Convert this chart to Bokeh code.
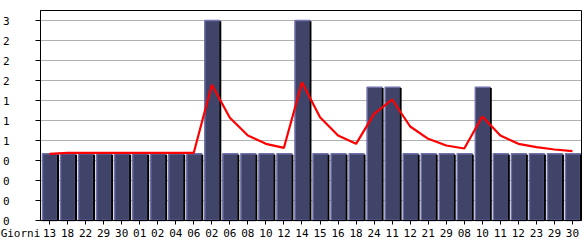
from bokeh.plotting import figure
from bokeh.models import FixedTicker, Range1d
from bokeh.embed import file_html
from bokeh.resources import INLINE

days = ["13", "18", "22", "29", "30", "01", "02", "04", "06", "02",
        "06", "08", "10", "12", "14", "15", "16", "18", "24", "11",
        "12", "21", "29", "08", "10", "11", "12", "23", "29", "30"]
visits = [1, 1, 1, 1, 1, 1, 1, 1, 1, 3,
          1, 1, 1, 1, 3, 1, 1, 1, 2, 2,
          1, 1, 1, 1, 2, 1, 1, 1, 1, 1]
average = [1.0, 1.015, 1.015, 1.015, 1.015, 1.015, 1.015, 1.015, 1.015, 2.035,
           1.54, 1.275, 1.15, 1.09, 2.075, 1.55, 1.275, 1.15, 1.6, 1.815,
           1.41, 1.225, 1.125, 1.08, 1.56, 1.275, 1.15, 1.1, 1.065, 1.04]
y_ticks = [0, 0.3, 0.6, 0.9, 1.2, 1.5, 1.8, 2.1, 2.4, 2.7, 3.0]
y_tick_labels = ["0", "0", "0", "0", "1", "1", "1", "2", "2", "2", "3"]
y_top = 3.15
x_title = "Giorni"

FONT = "DejaVu Sans Mono"
n = len(visits)
px_per_x = 541 / n          # category width in pixels
px_per_y = 210 / y_top      # pixels per unit of value
x_title_pos = -0.5 - 20 / px_per_x

p = figure(width=585, height=240, output_backend="svg", toolbar_location=None,
           x_range=Range1d(-0.5 - 40 / px_per_x, n - 0.5 + 2 / px_per_x),
           y_range=Range1d(-20 / px_per_y, y_top + 2 / px_per_y),
           min_border_left=0, min_border_right=2, min_border_top=8, min_border_bottom=0)
p.background_fill_color = "white"
p.border_fill_color = "white"
p.outline_line_color = None
p.xgrid.visible = False
p.ygrid.visible = False

xs = list(range(n))
body_x = [i + 0.027 for i in xs]
shadow_x = [i + 0.47 for i in xs]

# horizontal grid lines inside the plot box
p.segment(x0=[-0.5] * (len(y_ticks) - 1), x1=[n - 0.5] * (len(y_ticks) - 1),
          y0=y_ticks[1:], y1=y_ticks[1:], line_color="#b0b0b0", line_width=1)

p.vbar(x=body_x, top=visits, width=0.832, bottom=0,
       fill_color="#404468", line_color="#7070aa", line_width=1.5)
p.vbar(x=shadow_x, top=[v - 0.012 for v in visits], width=0.111, bottom=0,
       fill_color="black", line_color=None)
p.line(x=xs, y=average, line_color="#ff0000", line_width=2.2)

# plot box
p.quad(left=[-0.5], right=[n - 0.5], bottom=[0], top=[y_top],
       fill_color=None, line_color="black", line_width=1)

p.yaxis.fixed_location = -0.5
p.yaxis.bounds = (0, y_top)
p.yaxis.ticker = FixedTicker(ticks=y_ticks)
p.yaxis.major_label_overrides = {t: l for t, l in zip(y_ticks, y_tick_labels)}
p.yaxis.major_tick_out = 5
p.yaxis.major_tick_in = 0
p.yaxis.minor_tick_line_color = None
p.yaxis.major_label_standoff = 26
p.yaxis.axis_line_color = "black"
p.yaxis.major_tick_line_color = "black"
p.yaxis.major_label_text_font = FONT
p.yaxis.major_label_text_font_size = "11px"
p.yaxis.major_label_text_color = "black"

# x axis: labels as major ticks (incl. the "Giorni" caption), tick marks as minor ticks
p.xaxis.fixed_location = 0
p.xaxis.ticker = FixedTicker(ticks=[x_title_pos] + xs, minor_ticks=xs)
overrides = {i: d for i, d in enumerate(days)}
overrides[x_title_pos] = x_title
p.xaxis.major_label_overrides = overrides
p.xaxis.major_tick_line_color = None
p.xaxis.major_tick_out = 4
p.xaxis.major_tick_in = 0
p.xaxis.minor_tick_line_color = "black"
p.xaxis.minor_tick_out = 4
p.xaxis.minor_tick_in = 0
p.xaxis.major_label_standoff = 2
p.xaxis.axis_line_color = None
p.xaxis.major_label_text_font = FONT
p.xaxis.major_label_text_font_size = "11px"
p.xaxis.major_label_text_color = "black"

open("out.html", "w").write(file_html(p, INLINE))
